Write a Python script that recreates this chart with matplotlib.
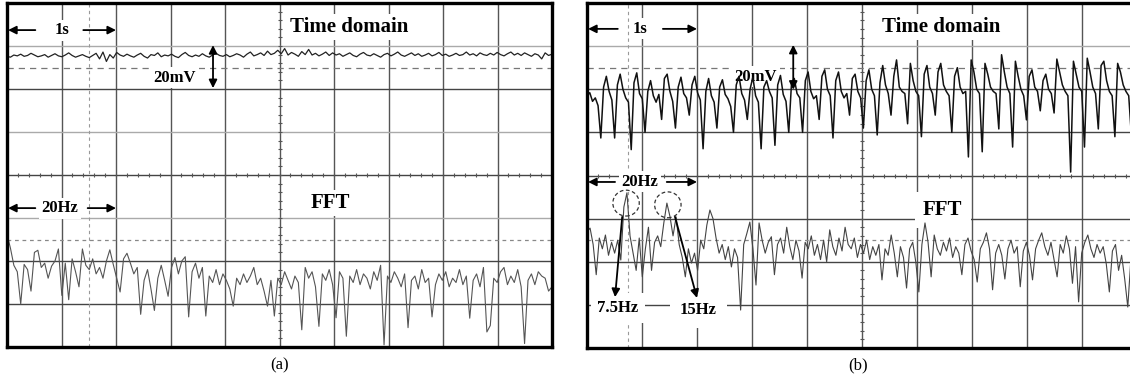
"""
Oscilloscope screenshots: time domain trace and FFT, (a) without and (b) with
a periodic 7.5 Hz disturbance.
"""

import matplotlib.pyplot as plt
import numpy as np
from matplotlib.patches import Ellipse

plt.rcParams.update({
    "font.family": ["Liberation Serif", "DejaVu Serif"],
    "font.size": 12,
})

# ─────────────────────────────────────────────────────────────────────
# Traces (units: divisions, 0 = bottom, 8 = top)
# ─────────────────────────────────────────────────────────────────────
time_a = [
    6.76, 6.74, 6.79, 6.77, 6.81, 6.76, 6.78, 6.83, 6.79, 6.75, 6.77, 6.80, 6.74, 6.78, 6.82, 6.77,
    6.75, 6.79, 6.84, 6.78, 6.74, 6.77, 6.80, 6.76, 6.73, 6.78, 6.83, 6.70, 6.86, 6.64, 6.80, 6.72,
    6.85, 6.79, 6.76, 6.81, 6.77, 6.74, 6.79, 6.83, 6.76, 6.72, 6.80, 6.78, 6.84, 6.75, 6.79, 6.77,
    6.81, 6.76, 6.73, 6.80, 6.85, 6.78, 6.75, 6.79, 6.76, 6.82, 6.77, 6.74, 6.79, 6.83, 6.78, 6.76,
    6.80, 6.75, 6.78, 6.82, 6.79, 6.74, 6.81, 6.86, 6.77, 6.80, 6.84, 6.78, 6.88, 6.80, 6.83, 6.90,
    6.82, 6.94, 6.79, 6.85, 6.81, 6.76, 6.87, 6.80, 6.92, 6.79, 6.83, 6.77, 6.81, 6.86, 6.78, 6.84,
    6.79, 6.82, 6.76, 6.80, 6.84, 6.78, 6.75, 6.81, 6.85, 6.79, 6.77, 6.82, 6.78, 6.74, 6.80, 6.83,
    6.77, 6.81, 6.86, 6.79, 6.76, 6.80, 6.84, 6.78, 6.82, 6.76, 6.79, 6.83, 6.77, 6.80, 6.85, 6.78,
    6.81, 6.76, 6.79, 6.83, 6.78, 6.80, 6.86, 6.79, 6.82, 6.77, 6.84, 6.80, 6.78, 6.83, 6.79, 6.85,
    6.80, 6.77, 6.82, 6.86, 6.79, 6.83, 6.78, 6.84, 6.80, 6.76, 6.82, 6.79, 6.70, 6.84, 6.78, 6.81,
]

fft_a = [
    2.62, 2.30, 1.90, 1.75, 1.00, 1.92, 1.80, 1.30, 2.20, 2.25, 1.85, 1.95, 1.60, 1.88, 2.00, 2.28,
    1.20, 1.95, 1.10, 2.05, 1.75, 1.40, 2.28, 1.90, 1.80, 2.05, 1.70, 1.85, 1.60, 2.00, 2.26, 1.92,
    1.60, 1.28, 2.05, 2.18, 1.95, 1.70, 1.85, 0.76, 1.55, 1.80, 1.35, 0.85, 1.60, 1.90, 1.55, 1.18,
    1.85, 2.08, 1.70, 2.00, 2.10, 0.70, 1.75, 1.95, 1.60, 1.85, 0.72, 1.65, 1.50, 1.80, 1.45, 1.70,
    1.55, 1.35, 0.95, 1.60, 1.45, 1.70, 1.50, 1.65, 1.85, 1.45, 1.60, 1.30, 0.95, 1.55, 0.72, 1.60,
    1.45, 1.75, 1.55, 1.35, 1.65, 1.50, 0.40, 1.85, 1.60, 1.75, 1.40, 0.48, 1.70, 1.55, 1.80, 1.45,
    0.68, 1.75, 1.60, 0.25, 1.65, 1.50, 1.80, 1.45, 1.70, 1.60, 1.35, 1.75, 1.55, 1.90, 0.05, 1.65,
    1.50, 1.75, 1.60, 1.40, 1.70, 0.45, 1.55, 1.65, 1.35, 1.80, 1.50, 1.60, 0.70, 1.45, 1.70, 1.55,
    1.75, 1.40, 1.60, 1.50, 1.80, 1.45, 1.65, 0.67, 1.55, 1.70, 1.40, 1.85, 0.35, 0.50, 1.60, 1.50,
    1.75, 1.85, 1.45, 1.65, 1.50, 1.80, 1.40, 0.08, 1.55, 1.70, 1.45, 1.75, 1.65, 1.60, 1.30, 1.40,
]

time_b = [
    5.85, 5.92, 5.72, 5.80, 5.62, 4.87, 6.05, 6.30, 5.95, 5.75,
    4.87, 6.10, 6.35, 6.00, 5.80, 5.70, 4.60, 6.15, 6.38, 5.90,
    5.78, 5.00, 5.95, 6.20, 5.85, 5.70, 5.88, 5.30, 6.25, 6.35,
    5.95, 5.72, 5.10, 6.05, 6.28, 5.90, 5.80, 5.40, 6.10, 6.30,
    5.92, 5.75, 4.62, 5.95, 6.25, 5.85, 5.70, 5.10, 6.05, 6.22,
    5.88, 5.78, 5.60, 5.00, 6.10, 6.30, 5.90, 5.75, 5.30, 6.00,
    6.28, 5.85, 5.70, 4.62, 6.05, 6.20, 5.95, 5.80, 4.70, 6.10,
    6.32, 5.88, 5.72, 5.00, 6.15, 6.25, 5.90, 5.80, 5.00, 6.20,
    6.40, 5.95, 5.78, 5.85, 5.30, 6.30, 6.45, 6.00, 5.85, 4.87,
    6.20, 6.40, 5.95, 5.80, 5.90, 5.40, 6.25, 6.35, 5.95, 5.80,
    5.10, 6.20, 6.45, 6.00, 5.85, 4.94, 6.15, 6.55, 6.10, 5.90,
    5.40, 6.30, 6.68, 6.05, 5.95, 5.90, 5.20, 6.60, 6.20, 5.95,
    5.85, 4.90, 6.35, 6.55, 6.05, 5.90, 5.40, 6.40, 6.60, 6.10,
    5.95, 5.85, 5.00, 6.30, 6.50, 6.05, 5.90, 5.95, 4.43, 6.68,
    6.40, 6.00, 5.90, 4.55, 6.60, 6.35, 6.05, 5.95, 5.90, 5.08,
    6.80, 6.40, 6.05, 5.90, 4.66, 6.65, 6.30, 6.00, 5.85, 5.29,
    6.30, 6.45, 6.05, 5.95, 5.50, 6.20, 6.35, 6.00, 5.90, 5.45,
    6.70, 6.40, 6.10, 5.95, 5.85, 4.08, 6.65, 6.35, 6.05, 5.95,
    4.66, 6.72, 6.40, 6.05, 5.90, 5.08, 6.55, 6.65, 6.20, 5.95,
    5.85, 4.90, 6.60, 6.40, 6.10, 5.95, 5.85, 4.90, 6.20, 6.10,
]

fft_b = [
    2.70, 2.78, 2.40, 1.70, 2.55, 2.30, 2.62, 2.15, 2.45, 2.20,
    2.50, 2.04, 3.27, 3.60, 2.60, 2.20, 1.80, 2.55, 1.65, 2.30,
    2.80, 1.80, 2.45, 2.60, 2.35, 2.90, 3.36, 3.05, 2.60, 3.04,
    2.40, 2.10, 1.65, 2.30, 1.97, 2.20, 1.80, 2.50, 2.30, 2.85,
    3.20, 3.00, 2.55, 2.20, 2.40, 2.05, 2.35, 1.88, 2.30, 2.10,
    0.88, 2.40, 2.65, 2.92, 2.30, 1.46, 2.90, 2.50, 2.20, 2.45,
    2.58, 1.70, 2.40, 2.55, 2.20, 2.80, 2.35, 2.05, 2.50, 2.25,
    1.62, 2.45, 2.30, 2.60, 2.15, 2.40, 2.05, 2.50, 2.00, 2.74,
    2.35, 2.15, 2.55, 2.25, 2.80, 2.40, 2.30, 2.55, 2.10, 2.40,
    2.20, 2.50, 2.05, 2.35, 2.15, 2.40, 1.58, 2.30, 2.15, 2.62,
    2.20, 1.65, 2.35, 2.10, 1.39, 2.30, 2.45, 2.00, 1.30, 2.40,
    2.90, 2.45, 1.65, 2.62, 2.30, 2.15, 2.45, 2.25, 2.55, 2.10,
    2.35, 2.20, 1.70, 2.40, 2.55, 2.25, 2.05, 1.53, 2.30, 2.45,
    2.67, 2.30, 1.35, 2.20, 2.40, 2.15, 1.60, 2.30, 2.50, 2.20,
    2.35, 1.42, 2.25, 2.45, 2.15, 1.58, 2.30, 2.50, 2.67, 2.35,
    2.15, 2.45, 2.05, 1.65, 2.40, 2.20, 2.60, 2.30, 1.50, 2.35,
    1.07, 2.20, 2.45, 2.62, 2.30, 2.10, 2.40, 2.20, 2.35, 1.95,
    1.30, 2.25, 2.40, 1.80, 2.15, 1.60, 0.95, 2.05, 2.20, 2.30,
]

# dashed vertical cursor on each screen
vline_a = 1.5
vline_b = 0.75


# ─────────────────────────────────────────────────────────────────────
# Figure
# ─────────────────────────────────────────────────────────────────────
W, H = 1130, 379
fig = plt.figure(figsize=(W / 100, H / 100), dpi=100)


def px_axes(left, top, width, height):
    return fig.add_axes([left / W, 1 - (top + height) / H, width / W, height / H])


def draw_screen(ax, light_rows, vdash_x):
    ax.set_xlim(0, 10)
    ax.set_ylim(0, 8)
    ax.set_xticks([])
    ax.set_yticks([])
    for s in ax.spines.values():
        s.set_linewidth(2.4)
        s.set_color("black")
        s.set_zorder(6)
    for x in range(1, 10):
        ax.axvline(x, color="#555555", lw=1.0, zorder=1)
    for y in range(1, 8):
        ax.axhline(y, color="#aaaaaa" if y in light_rows else "#444444",
                   lw=1.0, zorder=1)
    # minor ticks along the centre axes
    tx = np.arange(0.2, 10, 0.2)
    ax.plot(tx, np.full_like(tx, 4.0), "|", color="#555555", ms=3, mew=0.8, zorder=1)
    ty = np.arange(0.2, 8, 0.2)
    ax.plot(np.full_like(ty, 5.0), ty, "_", color="#555555", ms=3, mew=0.8, zorder=1)
    # cursors
    ax.axvline(vdash_x, color="#999999", lw=0.8, ls=(0, (3, 3)), zorder=1)
    ax.axhline(6.5, color="#777777", lw=0.9, ls=(0, (5, 4)), zorder=1)
    ax.axhline(2.5, color="#888888", lw=0.9, ls=(0, (3, 3)), zorder=1)


def label(ax, x, y, s, size=12, pad=0.15):
    ax.text(x, y, s, ha="center", va="center", fontsize=size, fontweight="bold",
            bbox=dict(boxstyle=f"square,pad={pad}", fc="white", ec="none"),
            zorder=2.5)


def arrow(ax, x0, y0, x1, y1, style="-|>"):
    ax.annotate("", xy=(x1, y1), xytext=(x0, y0),
                arrowprops=dict(arrowstyle=style, color="black", lw=1.3,
                                mutation_scale=12, shrinkA=0, shrinkB=0),
                zorder=4)


def trace(ax, values, color, lw=0.8):
    x = np.linspace(0, 10, len(values))
    ax.plot(x, values, color=color, lw=lw, zorder=3)


# Panel (a)
ax = px_axes(7, 3, 545, 344)
draw_screen(ax, light_rows=(7, 5, 3), vdash_x=vline_a)
trace(ax, time_a, "#222222", 0.9)
trace(ax, fft_a, "#555555", 0.8)
label(ax, 1.01, 7.37, "1s")
arrow(ax, 0.52, 7.37, 0.02, 7.37)
arrow(ax, 1.40, 7.37, 2.00, 7.37)
label(ax, 6.27, 7.44, "Time domain", size=15)
label(ax, 3.08, 6.26, "20mV")
arrow(ax, 3.78, 6.02, 3.78, 7.02, style="<|-|>")
label(ax, 5.93, 3.35, "FFT", size=15)
label(ax, 0.97, 3.23, "20Hz")
arrow(ax, 0.52, 3.23, 0.02, 3.23)
arrow(ax, 1.48, 3.23, 2.00, 3.23)

# Panel (b) -- right edge of the screen is cut off by the page
ax = px_axes(587, 3, 550, 345)
draw_screen(ax, light_rows=(7,), vdash_x=vline_b)
trace(ax, time_b, "#111111", 1.1)
trace(ax, fft_b, "#444444", 0.8)
label(ax, 0.96, 7.40, "1s")
arrow(ax, 0.56, 7.40, 0.02, 7.40)
arrow(ax, 1.38, 7.40, 2.00, 7.40)
label(ax, 6.44, 7.45, "Time domain", size=15)
label(ax, 3.07, 6.29, "20mV")
arrow(ax, 3.75, 5.99, 3.75, 7.03, style="<|-|>")
label(ax, 0.96, 3.85, "20Hz")
arrow(ax, 0.51, 3.85, 0.02, 3.85)
arrow(ax, 1.45, 3.85, 2.00, 3.85)
label(ax, 6.47, 3.20, "FFT", size=15, pad=0.4)
for cx, cy in [(0.71, 3.36), (1.47, 3.32)]:
    ax.add_patch(Ellipse((cx, cy), 0.48, 0.60, fill=False, ec="#333333",
                         lw=0.9, ls=(0, (3, 2)), zorder=4))
arrow(ax, 0.64, 3.04, 0.51, 1.18)
arrow(ax, 1.60, 3.04, 2.00, 1.16)
label(ax, 0.56, 0.93, "7.5Hz", pad=0.4)
label(ax, 2.02, 0.88, "15Hz", pad=0.6)

fig.text(280 / W, 1 - 365 / H, "(a)", ha="center", va="center", fontsize=12)
fig.text(858 / W, 1 - 365 / H, "(b)", ha="center", va="center", fontsize=12)

fig.savefig("out.png", dpi=100)
plt.close(fig)
